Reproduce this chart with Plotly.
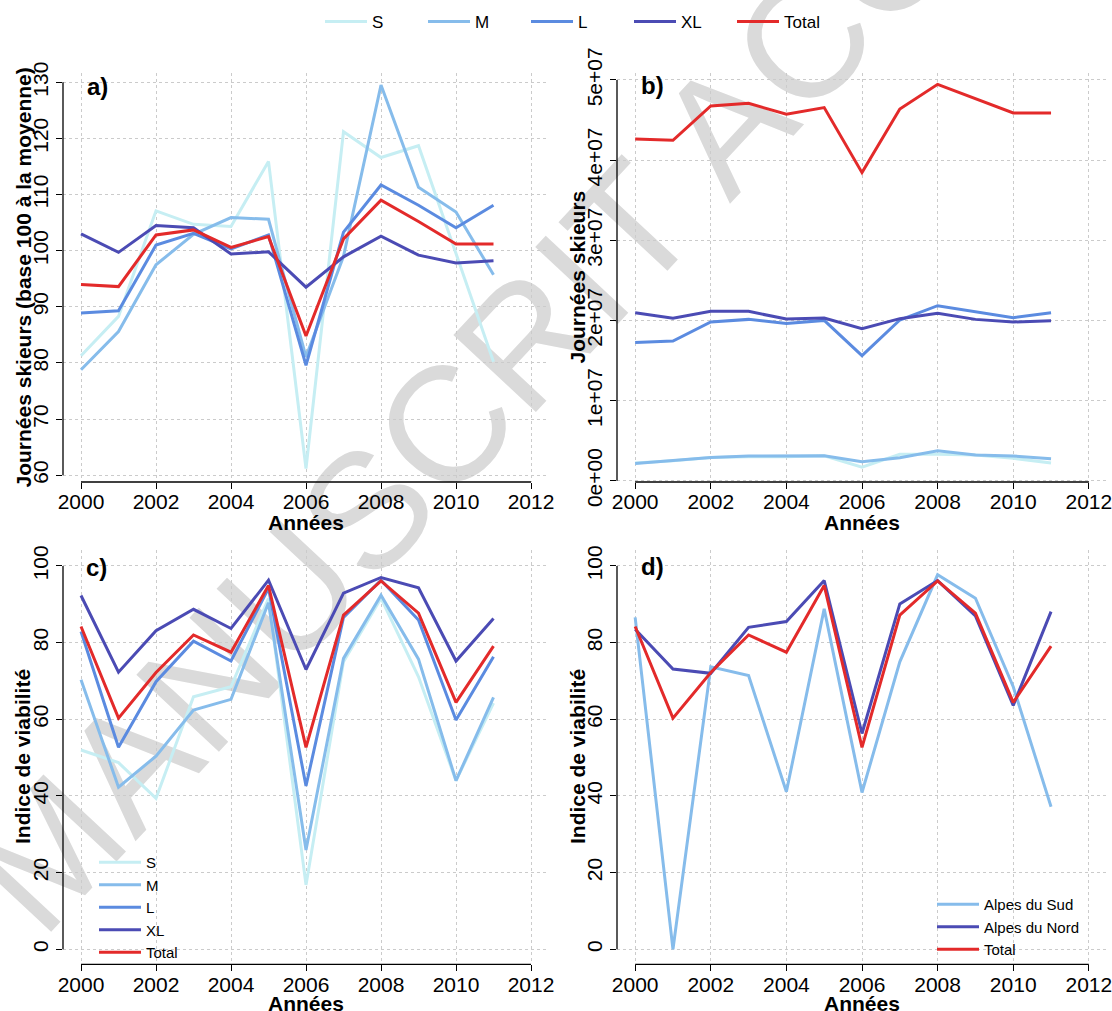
import plotly.graph_objects as go

# ---------------- data ----------------
years = list(range(2000, 2012))

# Panel a : Journées skieurs (base 100 à la moyenne)
a_S = [81.3, 88.3, 107.1, 104.7, 104.3, 115.9, 61.2, 121.2, 116.6, 118.7, 99.5, 80.2]
a_M = [78.8, 85.6, 97.5, 102.9, 105.9, 105.6, 81.1, 99.0, 129.5, 111.3, 106.9, 95.7]
a_L = [88.9, 89.3, 101.0, 103.1, 100.3, 102.8, 79.6, 103.3, 111.7, 108.1, 104.1, 108.1]
a_XL = [103.0, 99.7, 104.5, 104.1, 99.4, 99.8, 93.5, 98.9, 102.6, 99.2, 97.8, 98.2]
a_Total = [94.0, 93.6, 102.8, 103.7, 100.6, 102.5, 84.8, 102.1, 109.0, 105.2, 101.2, 101.2]

# Panel b : Journées skieurs
b_S = [2.2e6, 2.5e6, 2.9e6, 3.0e6, 3.0e6, 3.1e6, 1.7e6, 3.3e6, 3.3e6, 3.2e6, 2.8e6, 2.2e6]
b_M = [2.16e6, 2.58e6, 2.91e6, 3.08e6, 3.08e6, 3.12e6, 2.37e6, 2.87e6, 3.74e6, 3.2e6, 3.08e6, 2.75e6]
b_L = [1.726e7, 1.743e7, 1.98e7, 2.013e7, 1.963e7, 2.0e7, 1.56e7, 2.005e7, 2.184e7, 2.109e7, 2.034e7, 2.096e7]
b_XL = [2.096e7, 2.026e7, 2.113e7, 2.113e7, 2.017e7, 2.03e7, 1.897e7, 2.022e7, 2.088e7, 2.013e7, 1.98e7, 1.997e7]
b_Total = [4.264e7, 4.247e7, 4.676e7, 4.709e7, 4.572e7, 4.655e7, 3.844e7, 4.638e7, 4.946e7, 4.763e7, 4.588e7, 4.588e7]

# Panel c : Indice de viabilité par taille
c_S = [52.0, 48.7, 39.4, 65.9, 68.5, 91.5, 16.8, 75.0, 91.6, 71.1, 44.0, 64.2]
c_M = [70.3, 42.3, 50.4, 62.4, 65.2, 90.4, 25.9, 75.9, 92.4, 75.7, 44.0, 65.7]
c_L = [82.9, 52.7, 69.8, 80.4, 75.2, 94.2, 42.6, 86.6, 96.3, 85.9, 59.8, 76.3]
c_XL = [92.3, 72.3, 83.1, 88.7, 83.7, 96.3, 73.0, 92.9, 97.0, 94.3, 75.2, 86.3]
c_Total = [84.2, 60.3, 72.2, 82.0, 77.5, 94.9, 52.7, 87.2, 96.1, 87.7, 64.4, 79.1]

# Panel d : Indice de viabilité par massif
d_Sud = [86.6, 0.0, 73.7, 71.4, 41.1, 88.8, 40.9, 75.0, 97.7, 91.6, 68.5, 37.2]
d_Nord = [83.5, 73.1, 72.0, 84.0, 85.5, 96.2, 56.3, 90.1, 96.2, 87.0, 63.6, 88.1]
d_Total = [84.2, 60.3, 72.2, 82.0, 77.5, 94.9, 52.7, 87.2, 96.1, 87.7, 64.4, 79.1]

size_names = ["S", "M", "L", "XL", "Total"]
region_names = ["Alpes du Sud", "Alpes du Nord", "Total"]

x_ticks = [2000, 2002, 2004, 2006, 2008, 2010, 2012]
a_ticks = [60, 70, 80, 90, 100, 110, 120, 130]
b_ticks = [0, 1e7, 2e7, 3e7, 4e7, 5e7]
b_ticktext = ["0e+00", "1e+07", "2e+07", "3e+07", "4e+07", "5e+07"]
cd_ticks = [0, 20, 40, 60, 80, 100]

col_S = "#C6EEF3"
col_M = "#86BCEB"
col_L = "#5B8BE0"
col_XL = "#4B4BB4"
col_T = "#E32A2A"
size_colors = [col_S, col_M, col_L, col_XL, col_T]
region_colors = [col_M, col_XL, col_T]

FONT = "Liberation Sans, Arial, sans-serif"

fig = go.Figure()

# panel a
for name, vals, col in zip(size_names, [a_S, a_M, a_L, a_XL, a_Total], size_colors):
    fig.add_trace(go.Scatter(x=years, y=vals, mode="lines", name=name,
                             line=dict(color=col, width=3), xaxis="x", yaxis="y",
                             legend="legend", showlegend=True))
# panel b
for name, vals, col in zip(size_names, [b_S, b_M, b_L, b_XL, b_Total], size_colors):
    fig.add_trace(go.Scatter(x=years, y=vals, mode="lines", name=name,
                             line=dict(color=col, width=3), xaxis="x2", yaxis="y2",
                             showlegend=False))
# panel c
for name, vals, col in zip(size_names, [c_S, c_M, c_L, c_XL, c_Total], size_colors):
    fig.add_trace(go.Scatter(x=years, y=vals, mode="lines", name=name,
                             line=dict(color=col, width=3), xaxis="x3", yaxis="y3",
                             legend="legend2", showlegend=True))
# panel d
for name, vals, col in zip(region_names, [d_Sud, d_Nord, d_Total], region_colors):
    fig.add_trace(go.Scatter(x=years, y=vals, mode="lines", name=name,
                             line=dict(color=col, width=3), xaxis="x4", yaxis="y4",
                             legend="legend3", showlegend=True))

W, H = 1112, 1011
def px_x(p):
    return p / W
def px_y(p):
    return (H - p) / H

left_dom = [px_x(63), px_x(549)]
right_dom = [px_x(617), px_x(1107)]
top_dom = [px_y(482), px_y(73)]
bot_dom = [px_y(964.3), px_y(550)]

xrange = [1999.52, 2012.48]
tickfont = dict(family=FONT, size=21, color="black")

def xaxis(dom, anchor):
    return dict(domain=dom, anchor=anchor, range=xrange, tickvals=x_ticks,
                ticks="outside", ticklen=6, tickcolor="black", tickwidth=1,
                showline=False, zeroline=False, showgrid=True, gridcolor="#cbcbcb",
                griddash="dot", gridwidth=1, tickfont=tickfont, automargin=False,
                ticklabeloverflow="allow", ticklabelstandoff=-5)

def yaxis(dom, anchor, rng, tv, tt=None):
    d = dict(domain=dom, anchor=anchor, range=rng, tickvals=tv,
             ticks="outside", ticklen=6, tickcolor="black", tickwidth=1,
             showline=False, zeroline=False, showgrid=True, gridcolor="#cbcbcb",
             griddash="dot", gridwidth=1, tickfont=tickfont, tickangle=-90,
             automargin=False, ticklabeloverflow="allow")
    if tt is not None:
        d["ticktext"] = tt
    return d

fig.update_layout(
    width=W, height=H,
    margin=dict(l=0, r=0, t=0, b=0, autoexpand=False),
    paper_bgcolor="white",
    plot_bgcolor="rgba(0,0,0,0)",
    font=dict(family=FONT, color="black"),
    xaxis=xaxis(left_dom, "y"),
    yaxis=yaxis(top_dom, "x", [58.8, 131.65], a_ticks),
    xaxis2=xaxis(right_dom, "y2"),
    yaxis2=yaxis(top_dom, "x2", [-1.6e5, 5.087e7], b_ticks, b_ticktext),
    xaxis3=xaxis(left_dom, "y3"),
    yaxis3=yaxis(bot_dom, "x3", [-3.91, 104.17], cd_ticks),
    xaxis4=xaxis(right_dom, "y4"),
    yaxis4=yaxis(bot_dom, "x4", [-3.91, 104.17], cd_ticks),
    legend=dict(orientation="h", x=px_x(320), y=px_y(22), xanchor="left", yanchor="middle",
                bgcolor="rgba(0,0,0,0)", font=dict(family=FONT, size=17),
                entrywidth=46, entrywidthmode="pixels", itemwidth=42),
    legend2=dict(orientation="v", x=px_x(94), y=px_y(846), xanchor="left", yanchor="top",
                 bgcolor="rgba(0,0,0,0)", font=dict(family=FONT, size=15), tracegroupgap=0,
                 itemwidth=42),
    legend3=dict(orientation="v", x=px_x(932), y=px_y(888), xanchor="left", yanchor="top",
                 bgcolor="rgba(0,0,0,0)", font=dict(family=FONT, size=15), tracegroupgap=0,
                 itemwidth=42),
)

# R-style axis lines (span first to last tick)
axis_specs = [("x", "y", a_ticks), ("x2", "y2", b_ticks), ("x3", "y3", cd_ticks), ("x4", "y4", cd_ticks)]
for xa, ya, yt in axis_specs:
    fig.add_shape(type="line", xref=f"{xa} domain", yref=ya, x0=0, x1=0,
                  y0=yt[0], y1=yt[-1], line=dict(color="black", width=1.3))
    fig.add_shape(type="line", xref=xa, yref=f"{ya} domain", x0=x_ticks[0], x1=x_ticks[-1],
                  y0=0, y1=0, line=dict(color="black", width=1.3))

# watermark under the plot
cx, cy = px_x(597), px_y(240)
fig.add_shape(type="line", xref="paper", yref="paper", x0=cx - 0.05, x1=cx + 0.05,
              y0=cy - 0.05, y1=cy + 0.05, layer="below",
              line=dict(color="rgba(0,0,0,0)", width=1),
              label=dict(text="MANUSCRIT ACCEPTÉ", textangle=-47, textposition="middle",
                         yanchor="middle", font=dict(family=FONT, size=164, color="#dadada")))

# axis titles
title_font = dict(family=FONT, size=21, color="black", weight="bold")
for xc, yc in [(306, 522), (862, 522), (306, 1003), (862, 1003)]:
    fig.add_annotation(text="Années", x=px_x(xc), y=px_y(yc), xref="paper", yref="paper",
                       showarrow=False, xanchor="center", yanchor="middle", font=title_font)
ytitles = [("Journées skieurs (base 100 à la moyenne)", 23, 277.5),
           ("Journées skieurs", 577, 277.5),
           ("Indice de viabilité", 22, 757),
           ("Indice de viabilité", 577, 757)]
for t, xc, yc in ytitles:
    fig.add_annotation(text=t, x=px_x(xc), y=px_y(yc), xref="paper", yref="paper",
                       showarrow=False, textangle=-90, xanchor="center", yanchor="middle",
                       font=title_font)

# panel labels
panel_font = dict(family=FONT, size=24, color="black", weight="bold")
for lab, xl, yc in [("a)", 85, 87), ("b)", 639, 86), ("c)", 84, 568), ("d)", 639, 567)]:
    fig.add_annotation(text=lab, x=px_x(xl), y=px_y(yc), xref="paper", yref="paper",
                       showarrow=False, xanchor="left", yanchor="middle", font=panel_font)

fig.write_html("out.html", config={"displayModeBar": False},
               post_script="document.body.style.margin='0px';")
